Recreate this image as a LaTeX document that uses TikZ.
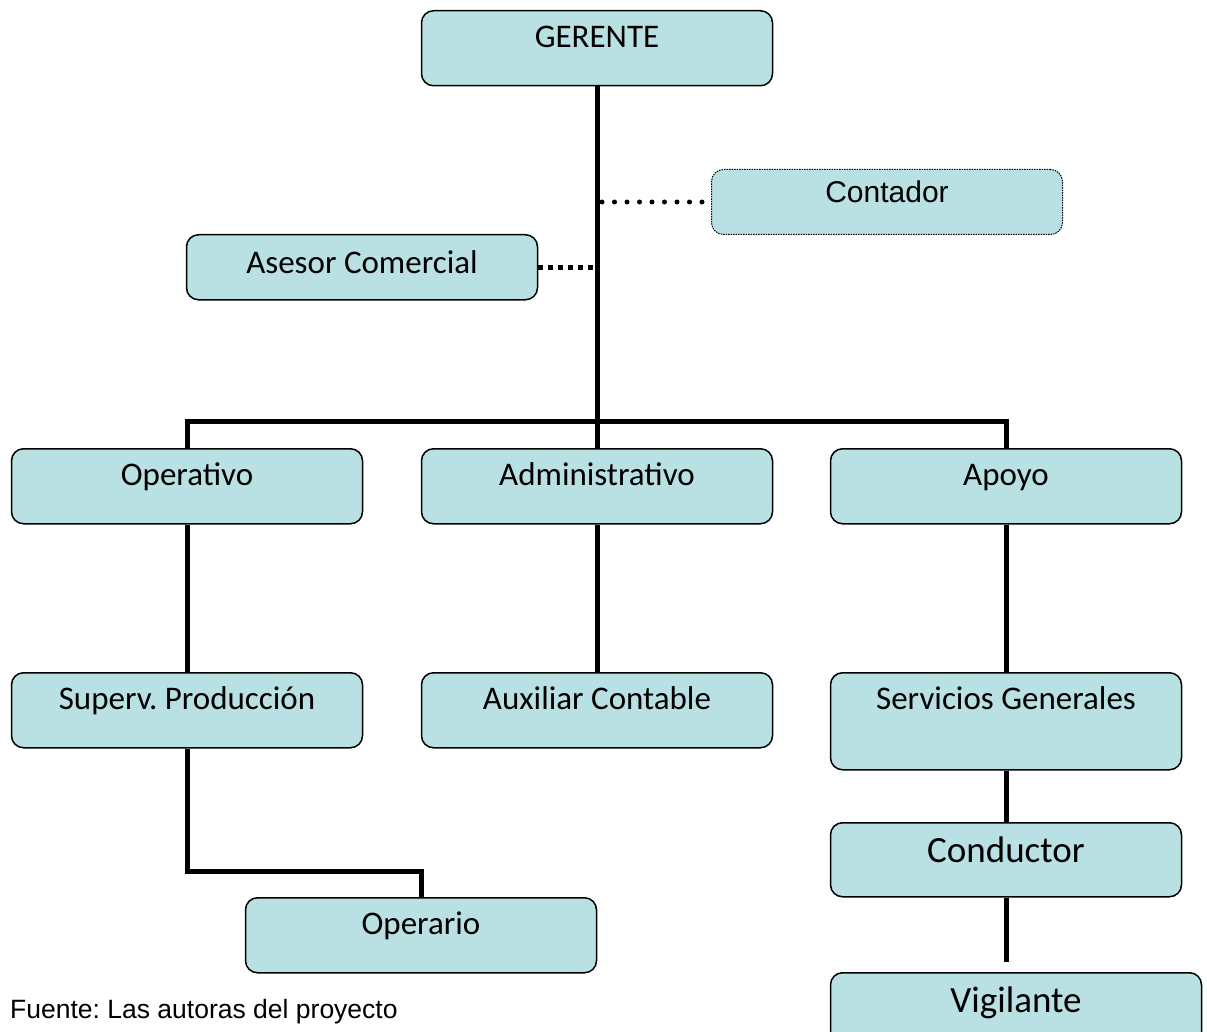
\documentclass[tikz,border=0pt]{standalone}
\usepackage{fontspec}
\setmainfont{Carlito}
\newfontfamily\arialf{Liberation Sans}
\definecolor{cajafondo}{RGB}{185,224,227}
\frenchspacing
\begin{document}
\begin{tikzpicture}[
	x=1pt, y=-1pt,
	cargo/.style={draw, line width=1.5pt, rounded corners=12pt, fill=cajafondo,
				  minimum width=351pt, inner sep=0pt, anchor=north,
				  text height=37pt, text depth=38pt,
				  font=\fontsize{33}{40}\selectfont},
	linea/.style={line width=5pt},
	]
	\useasboundingbox (0,0) rectangle (1207,1032);

	%boxes
	\node[cargo] (gerente) at (597,10) {GERENTE};
	\node[cargo, densely dotted, line width=1pt, text height=33pt, text depth=32pt,
		  font=\arialf\fontsize{30}{36}\selectfont] (contador) at (887,169) {Contador};
	\node[cargo, text height=39pt, text depth=26pt] (asesor) at (362,234) {Asesor Comercial};
	\node[cargo] (operativo) at (187,448) {Operativo};
	\node[cargo] (admin) at (597,448) {Administrativo};
	\node[cargo] (apoyo) at (1006,448) {Apoyo};
	\node[cargo] (superv) at (187,672) {Superv. Producción};
	\node[cargo] (auxiliar) at (597,672) {Auxiliar Contable};
	\node[cargo, text depth=60pt] (servicios) at (1006,672) {Servicios Generales};
	\node[cargo, text height=40pt, text depth=34pt,
		  font=\fontsize{37}{44}\selectfont] (conductor) at (1006,822) {Conductor};
	\node[cargo, minimum width=371pt, text height=40pt, text depth=35pt,
		  font=\fontsize{37}{44}\selectfont] (vigilante) at (1016,972) {Vigilante};
	\node[cargo] (operario) at (421,897) {Operario};

	%lines
	\coordinate (barra) at (597,421);
	\coordinate (finvig) at (1006,962);
	\draw[linea] (gerente.south) -- (admin.north);
	\draw[linea] (operativo.north) |- (barra) -| (apoyo.north);
	\draw[line width=5pt, line cap=round, dash pattern=on 0pt off 12.5pt]
		(contador.west -| gerente.south) ++(5,0) -- (contador.west);
	\draw[line width=5pt, dash pattern=on 5pt off 5pt]
		(asesor.east) -- (asesor.east -| gerente.south);
	\draw[linea] (operativo.south) -- (superv.north);
	\draw[linea] (admin.south) -- (auxiliar.north);
	\draw[linea] (apoyo.south) -- (servicios.north);
	\draw[linea] (superv.south) -- ++(0,123) -| (operario.north);
	\draw[linea] (servicios.south) -- (conductor.north);
	\draw[linea] (conductor.south) -- (finvig);

	%source
	\node[anchor=base west, inner sep=0pt, font=\arialf\fontsize{26.5}{32}\selectfont]
		(fuente) at (10,1018) {Fuente: Las autoras del proyecto};
\end{tikzpicture}
\end{document}
